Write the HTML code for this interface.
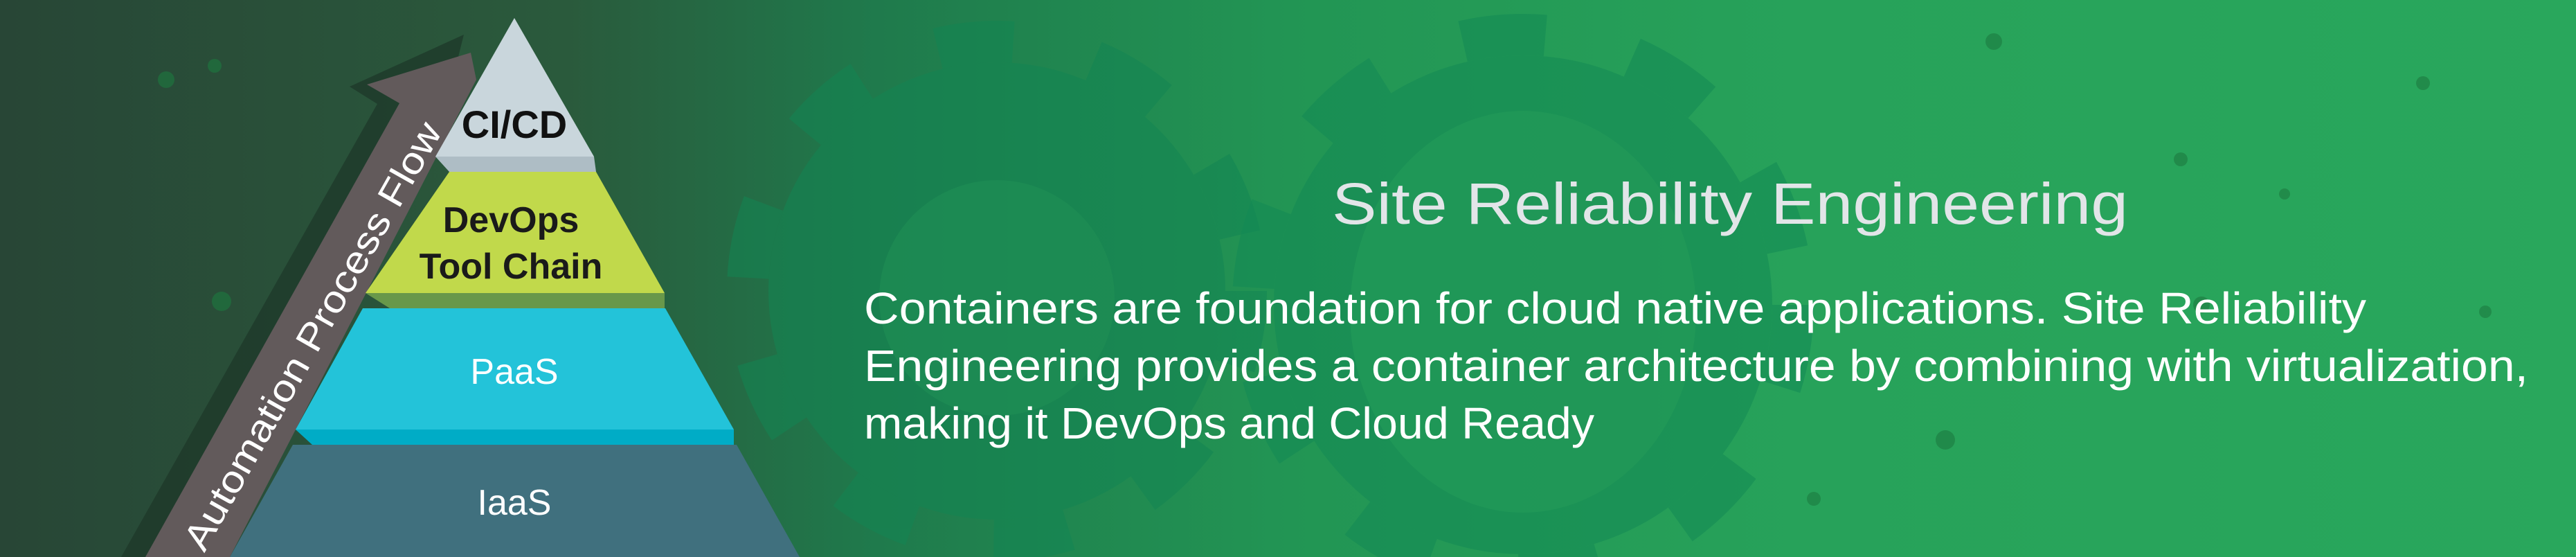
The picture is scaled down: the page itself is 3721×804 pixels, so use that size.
<!DOCTYPE html>
<html><head><meta charset="utf-8"><style>
html,body{margin:0;padding:0;width:3721px;height:804px;overflow:hidden;}
svg{display:block}
</style></head><body>
<svg width="3721" height="804" viewBox="0 0 3721 804" xmlns="http://www.w3.org/2000/svg">
<defs>
<linearGradient id="bg" x1="0" y1="0" x2="1" y2="0">
<stop offset="0" stop-color="#284636"/>
<stop offset="0.22" stop-color="#2a5a3c"/>
<stop offset="0.34" stop-color="#1f7a4c"/>
<stop offset="0.5" stop-color="#229554"/>
<stop offset="0.7" stop-color="#27a25a"/>
<stop offset="1" stop-color="#29a75c"/>
</linearGradient>
</defs>
<rect width="3721" height="804" fill="url(#bg)"/>
<!-- gears -->
<g fill="#138553" opacity="0.55">
<circle cx="1440" cy="420" r="330"/>
<circle cx="1440" cy="420" r="360" fill="none" stroke="#138553" stroke-width="60" stroke-dasharray="110 120"/>
</g>
<circle cx="1440" cy="430" r="170" fill="#1f9055" opacity="0.6"/>
<g fill="#138a55" opacity="0.55">
<circle cx="2200" cy="440" r="360"/>
<circle cx="2200" cy="440" r="390" fill="none" stroke="#138a55" stroke-width="60" stroke-dasharray="120 130"/>
</g>
<ellipse cx="2200" cy="450" rx="250" ry="290" fill="#229a58" opacity="0.7"/>
<!-- dots -->
<g fill="#1d7a40" opacity="0.6">
<circle cx="310" cy="95" r="10"/><circle cx="240" cy="115" r="12"/><circle cx="320" cy="435" r="14"/>
<circle cx="2880" cy="60" r="12"/><circle cx="3150" cy="230" r="10"/><circle cx="3180" cy="440" r="12"/>
<circle cx="2810" cy="635" r="14"/><circle cx="3300" cy="280" r="8"/><circle cx="3500" cy="120" r="10"/>
<circle cx="3590" cy="450" r="9"/><circle cx="2620" cy="720" r="10"/>
</g>
<!-- arrow shadow -->
<polygon points="175,804 545,150 505,125 670,50 650,130 300,804" fill="#1c3628" opacity="0.7"/>
<!-- arrow -->
<polygon points="210,804 577,149 530,122 680,76 688,115 332,804" fill="#625a5b"/>
<text x="0" y="0" transform="translate(455,487) rotate(-60.5)" text-anchor="middle" dominant-baseline="middle" font-family="Liberation Sans, sans-serif" font-size="54" fill="#ffffff" textLength="700" lengthAdjust="spacingAndGlyphs">Automation Process Flow</text>
<!-- pyramid -->
<polygon points="743,26 858,226 629,226" fill="#c9d6dc"/>
<polygon points="629,226 858,226 861,248 649,248" fill="#aebdc5"/>
<polygon points="649,248 861,248 960,423 528,423" fill="#c1d94b"/>
<polygon points="528,423 960,423 960,445 563,445" fill="#68984a"/>
<polygon points="524,445 961,445 1060,620 427,620" fill="#23c3d9"/>
<polygon points="427,620 1060,620 1060,642 451,642" fill="#00acc6"/>
<polygon points="423,642 1064,642 1155,804 332,804" fill="#40707e"/>
<g font-family="Liberation Sans, sans-serif" text-anchor="middle">
<text x="743" y="199" font-size="56" font-weight="bold" fill="#111">CI/CD</text>
<text x="738" y="335" font-size="52" font-weight="bold" fill="#1a1a1a">DevOps</text>
<text x="738" y="402" font-size="52" font-weight="bold" fill="#1a1a1a">Tool Chain</text>
<text x="743" y="554" font-size="52" fill="#ffffff">PaaS</text>
<text x="743" y="743" font-size="52" fill="#ffffff">IaaS</text>
</g>
<!-- right text -->
<g font-family="Liberation Sans, sans-serif">
<text x="1924" y="323" font-size="84" fill="#e2e5e8" textLength="1150" lengthAdjust="spacingAndGlyphs">Site Reliability Engineering</text>
<text x="1248" y="467" font-size="64" fill="#ffffff" textLength="2170" lengthAdjust="spacingAndGlyphs">Containers are foundation for cloud native applications. Site Reliability</text>
<text x="1248" y="550" font-size="64" fill="#ffffff" textLength="2404" lengthAdjust="spacingAndGlyphs">Engineering provides a container architecture by combining with virtualization,</text>
<text x="1248" y="633" font-size="64" fill="#ffffff" textLength="1055" lengthAdjust="spacingAndGlyphs">making it DevOps and Cloud Ready</text>
</g>
</svg>
</body></html>
